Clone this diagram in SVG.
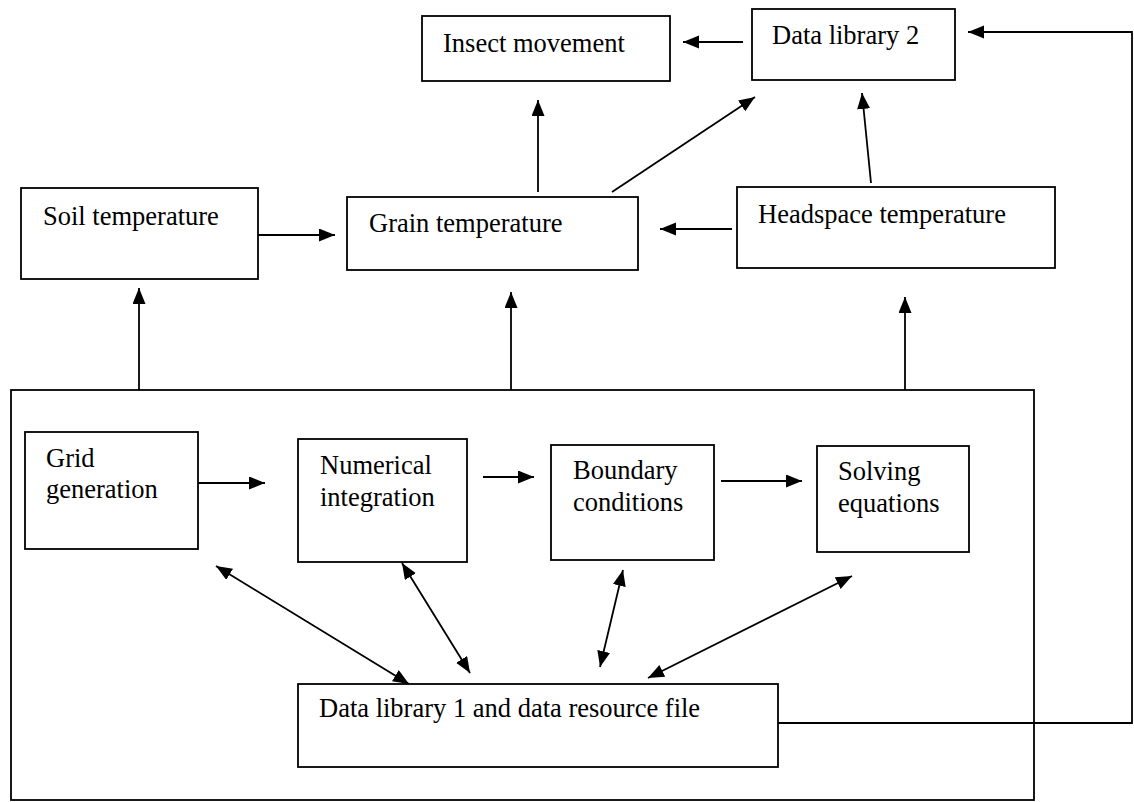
<svg xmlns="http://www.w3.org/2000/svg" width="1134" height="802" viewBox="0 0 1134 802">
  <style>
    .box { fill: #fff; stroke: #000; stroke-width: 1.8; }
    .frame { fill: none; stroke: #000; stroke-width: 1.8; }
    .lbl { font-family: "Liberation Serif", "Times New Roman", serif; font-size: 26.5px; fill: #000; }
    .con { fill: none; stroke: #000; stroke-width: 1.8; }
    .one { marker-end: url(#head); }
    .two { marker-start: url(#head); marker-end: url(#head); }
  </style>
  <defs>
    <marker id="head" markerUnits="userSpaceOnUse" markerWidth="18" markerHeight="14" refX="16" refY="6.5" orient="auto-start-reverse">
      <path d="M0,0 L16,6.5 L0,13 z" fill="#000"/>
    </marker>
  </defs>

  <!-- enclosing solver frame -->
  <rect id="solver-frame" class="frame" x="11" y="390" width="1023" height="410"/>

  <g id="insect-movement">
    <rect class="box" x="422" y="16" width="248" height="65"/>
    <text class="lbl" x="443" y="52">Insect movement</text>
  </g>
  <g id="data-library-2">
    <rect class="box" x="752" y="9" width="203" height="71"/>
    <text class="lbl" x="772" y="44">Data library 2</text>
  </g>
  <g id="soil-temperature">
    <rect class="box" x="21" y="188" width="237" height="91"/>
    <text class="lbl" x="43" y="225">Soil temperature</text>
  </g>
  <g id="grain-temperature">
    <rect class="box" x="347" y="197" width="291" height="73"/>
    <text class="lbl" x="369" y="232">Grain temperature</text>
  </g>
  <g id="headspace-temperature">
    <rect class="box" x="737" y="187" width="318" height="81"/>
    <text class="lbl" x="758" y="223">Headspace temperature</text>
  </g>
  <g id="grid-generation">
    <rect class="box" x="25" y="432" width="173" height="117"/>
    <text class="lbl" x="46" y="467">Grid</text>
    <text class="lbl" x="46" y="498">generation</text>
  </g>
  <g id="numerical-integration">
    <rect class="box" x="298" y="439" width="169" height="123"/>
    <text class="lbl" x="320" y="474">Numerical</text>
    <text class="lbl" x="320" y="506">integration</text>
  </g>
  <g id="boundary-conditions">
    <rect class="box" x="551" y="445" width="163" height="115"/>
    <text class="lbl" x="573" y="479">Boundary</text>
    <text class="lbl" x="573" y="511">conditions</text>
  </g>
  <g id="solving-equations">
    <rect class="box" x="817" y="446" width="152" height="106"/>
    <text class="lbl" x="838" y="480">Solving</text>
    <text class="lbl" x="838" y="512">equations</text>
  </g>
  <g id="data-library-1">
    <rect class="box" x="298" y="684" width="480" height="83"/>
    <text class="lbl" x="319" y="717">Data library 1 and data resource file</text>
  </g>

  <g id="connectors">
    <!-- upper level -->
    <line class="con one" x1="743" y1="42" x2="683" y2="42"/>
    <line class="con one" x1="538" y1="192" x2="538" y2="100"/>
    <line class="con one" x1="612" y1="192" x2="755" y2="97"/>
    <line class="con one" x1="871" y1="183" x2="862" y2="93"/>
    <line class="con one" x1="258" y1="235" x2="335" y2="235"/>
    <line class="con one" x1="732" y1="229" x2="660" y2="229"/>
    <!-- frame outputs -->
    <line class="con one" x1="139" y1="390" x2="139" y2="288"/>
    <line class="con one" x1="511" y1="390" x2="511" y2="292"/>
    <line class="con one" x1="905" y1="390" x2="905" y2="297"/>
    <!-- solver chain -->
    <line class="con one" x1="198" y1="483" x2="265" y2="483"/>
    <line class="con one" x1="483" y1="477" x2="534" y2="477"/>
    <line class="con one" x1="721" y1="481" x2="802" y2="481"/>
    <!-- data library exchanges -->
    <line class="con two" x1="216" y1="566" x2="409" y2="684"/>
    <line class="con two" x1="402" y1="563" x2="470" y2="673"/>
    <line class="con two" x1="623" y1="570" x2="600" y2="667"/>
    <line class="con two" x1="852" y1="576" x2="648" y2="678"/>
    <!-- feedback to data library 2 -->
    <polyline class="con one" points="778,723 1132,723 1132,32 968,32"/>
  </g>
</svg>
